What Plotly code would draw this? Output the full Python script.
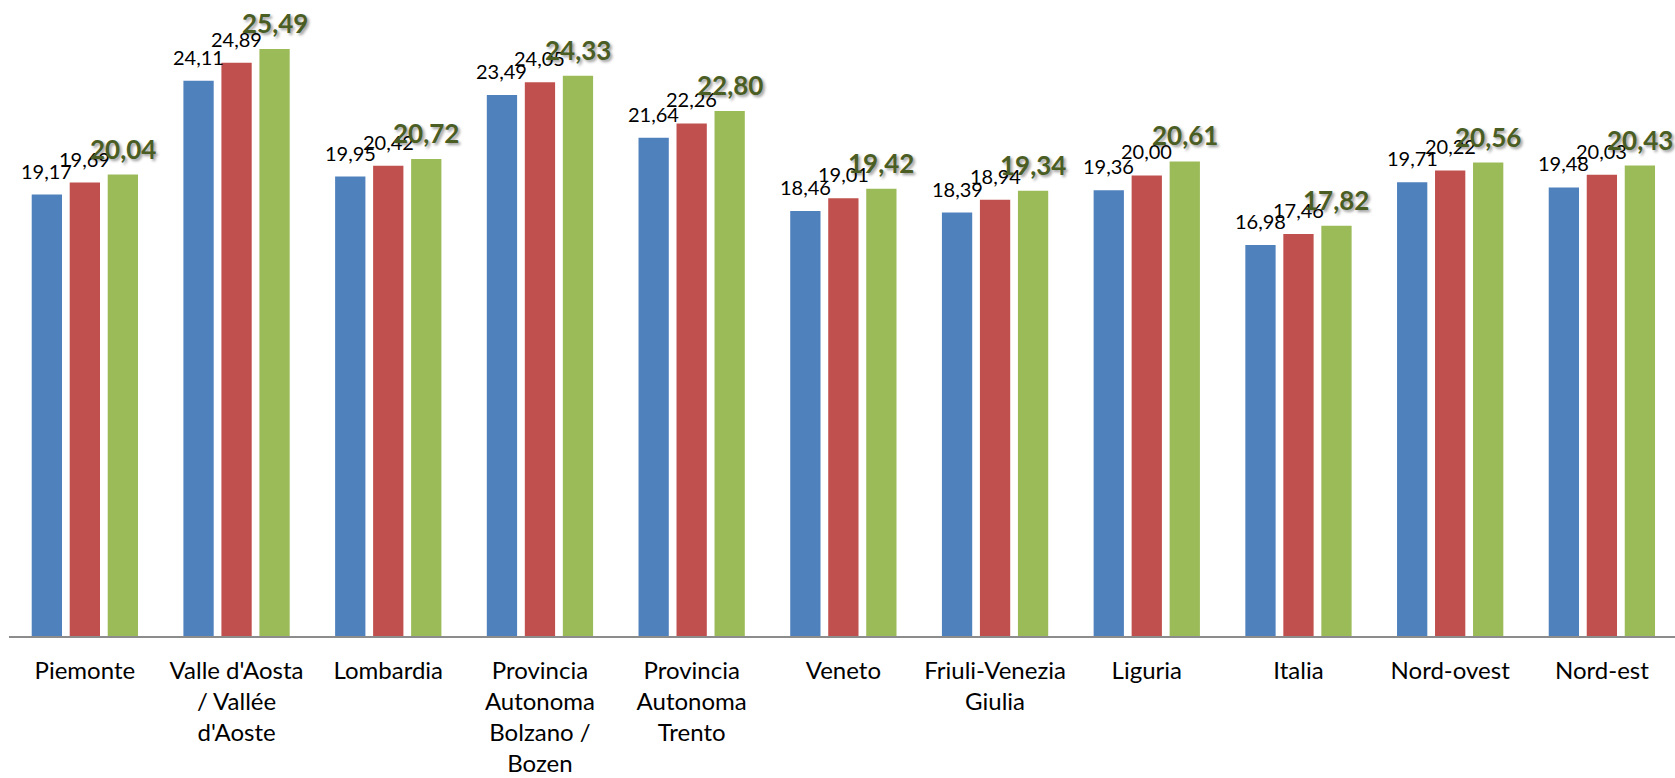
import plotly.graph_objects as go

# Regions / aggregates shown on the category axis
categories = [
    "Piemonte",
    "Valle d'Aosta<br>/ Vallée<br>d'Aoste",
    "Lombardia",
    "Provincia<br>Autonoma<br>Bolzano /<br>Bozen",
    "Provincia<br>Autonoma<br>Trento",
    "Veneto",
    "Friuli-Venezia<br>Giulia",
    "Liguria",
    "Italia",
    "Nord-ovest",
    "Nord-est",
]

# Three successive measurements per region
series_1 = [19.17, 24.11, 19.95, 23.49, 21.64, 18.46, 18.39, 19.36, 16.98, 19.71, 19.48]
series_2 = [19.69, 24.89, 20.42, 24.05, 22.26, 19.01, 18.94, 20.00, 17.46, 20.22, 20.03]
series_3 = [20.04, 25.49, 20.72, 24.33, 22.80, 19.42, 19.34, 20.61, 17.82, 20.56, 20.43]

colors = ["#4F81BD", "#C0504D", "#9BBB59"]
label_green = "#4A5D23"
font_family = "Lato, 'Open Sans', sans-serif"

W, H = 1675, 778
margin = dict(l=9, r=0, t=0, b=142)
bargap, bargroupgap = 0.2485, 0.203
x_lo, x_hi = -0.5, 10.482
y_hi = 27.62

fig = go.Figure()
all_series = [series_1, series_2, series_3]
for vals, col in zip(all_series, colors):
    fig.add_trace(go.Bar(
        x=categories, y=vals,
        marker=dict(color=col, line=dict(width=0)),
        showlegend=False, hoverinfo="skip",
    ))

# width of one category slot in pixels, used to centre labels over each bar
plot_w = W - margin["l"] - margin["r"]
slot_px = plot_w / (x_hi - x_lo)
pitch_px = slot_px * (1 - bargap) / 3


def fmt(v):
    return f"{v:.2f}".replace(".", ",")


annotations = []
for k, vals in enumerate(all_series):
    shift = (k - 1) * pitch_px
    for cat, v in zip(categories, vals):
        if k < 2:
            font = dict(family=font_family, size=20, color="#000000")
            ysh = 10
        else:
            font = dict(family=font_family, size=26, color=label_green,
                        weight="bold",
                        shadow="2px 2px 3px rgba(0,0,0,0.4)")
            ysh = 8
        annotations.append(dict(
            x=cat, y=v, xref="x", yref="y",
            text=fmt(v), showarrow=False,
            xanchor="center", yanchor="bottom",
            xshift=shift, yshift=ysh, font=font,
        ))

fig.update_layout(
    width=W, height=H,
    margin=margin,
    paper_bgcolor="white", plot_bgcolor="white",
    barmode="group", bargap=bargap, bargroupgap=bargroupgap,
    annotations=annotations,
    xaxis=dict(
        type="category", range=[x_lo, x_hi],
        showline=True, linecolor="#8C8C8C", linewidth=2,
        showgrid=False, ticks="", ticklabelstandoff=12,
        tickfont=dict(family=font_family, size=24, color="#000000"),
    ),
    yaxis=dict(visible=False, range=[0, y_hi], showgrid=False, zeroline=False),
)

fig.write_html("out.html")
